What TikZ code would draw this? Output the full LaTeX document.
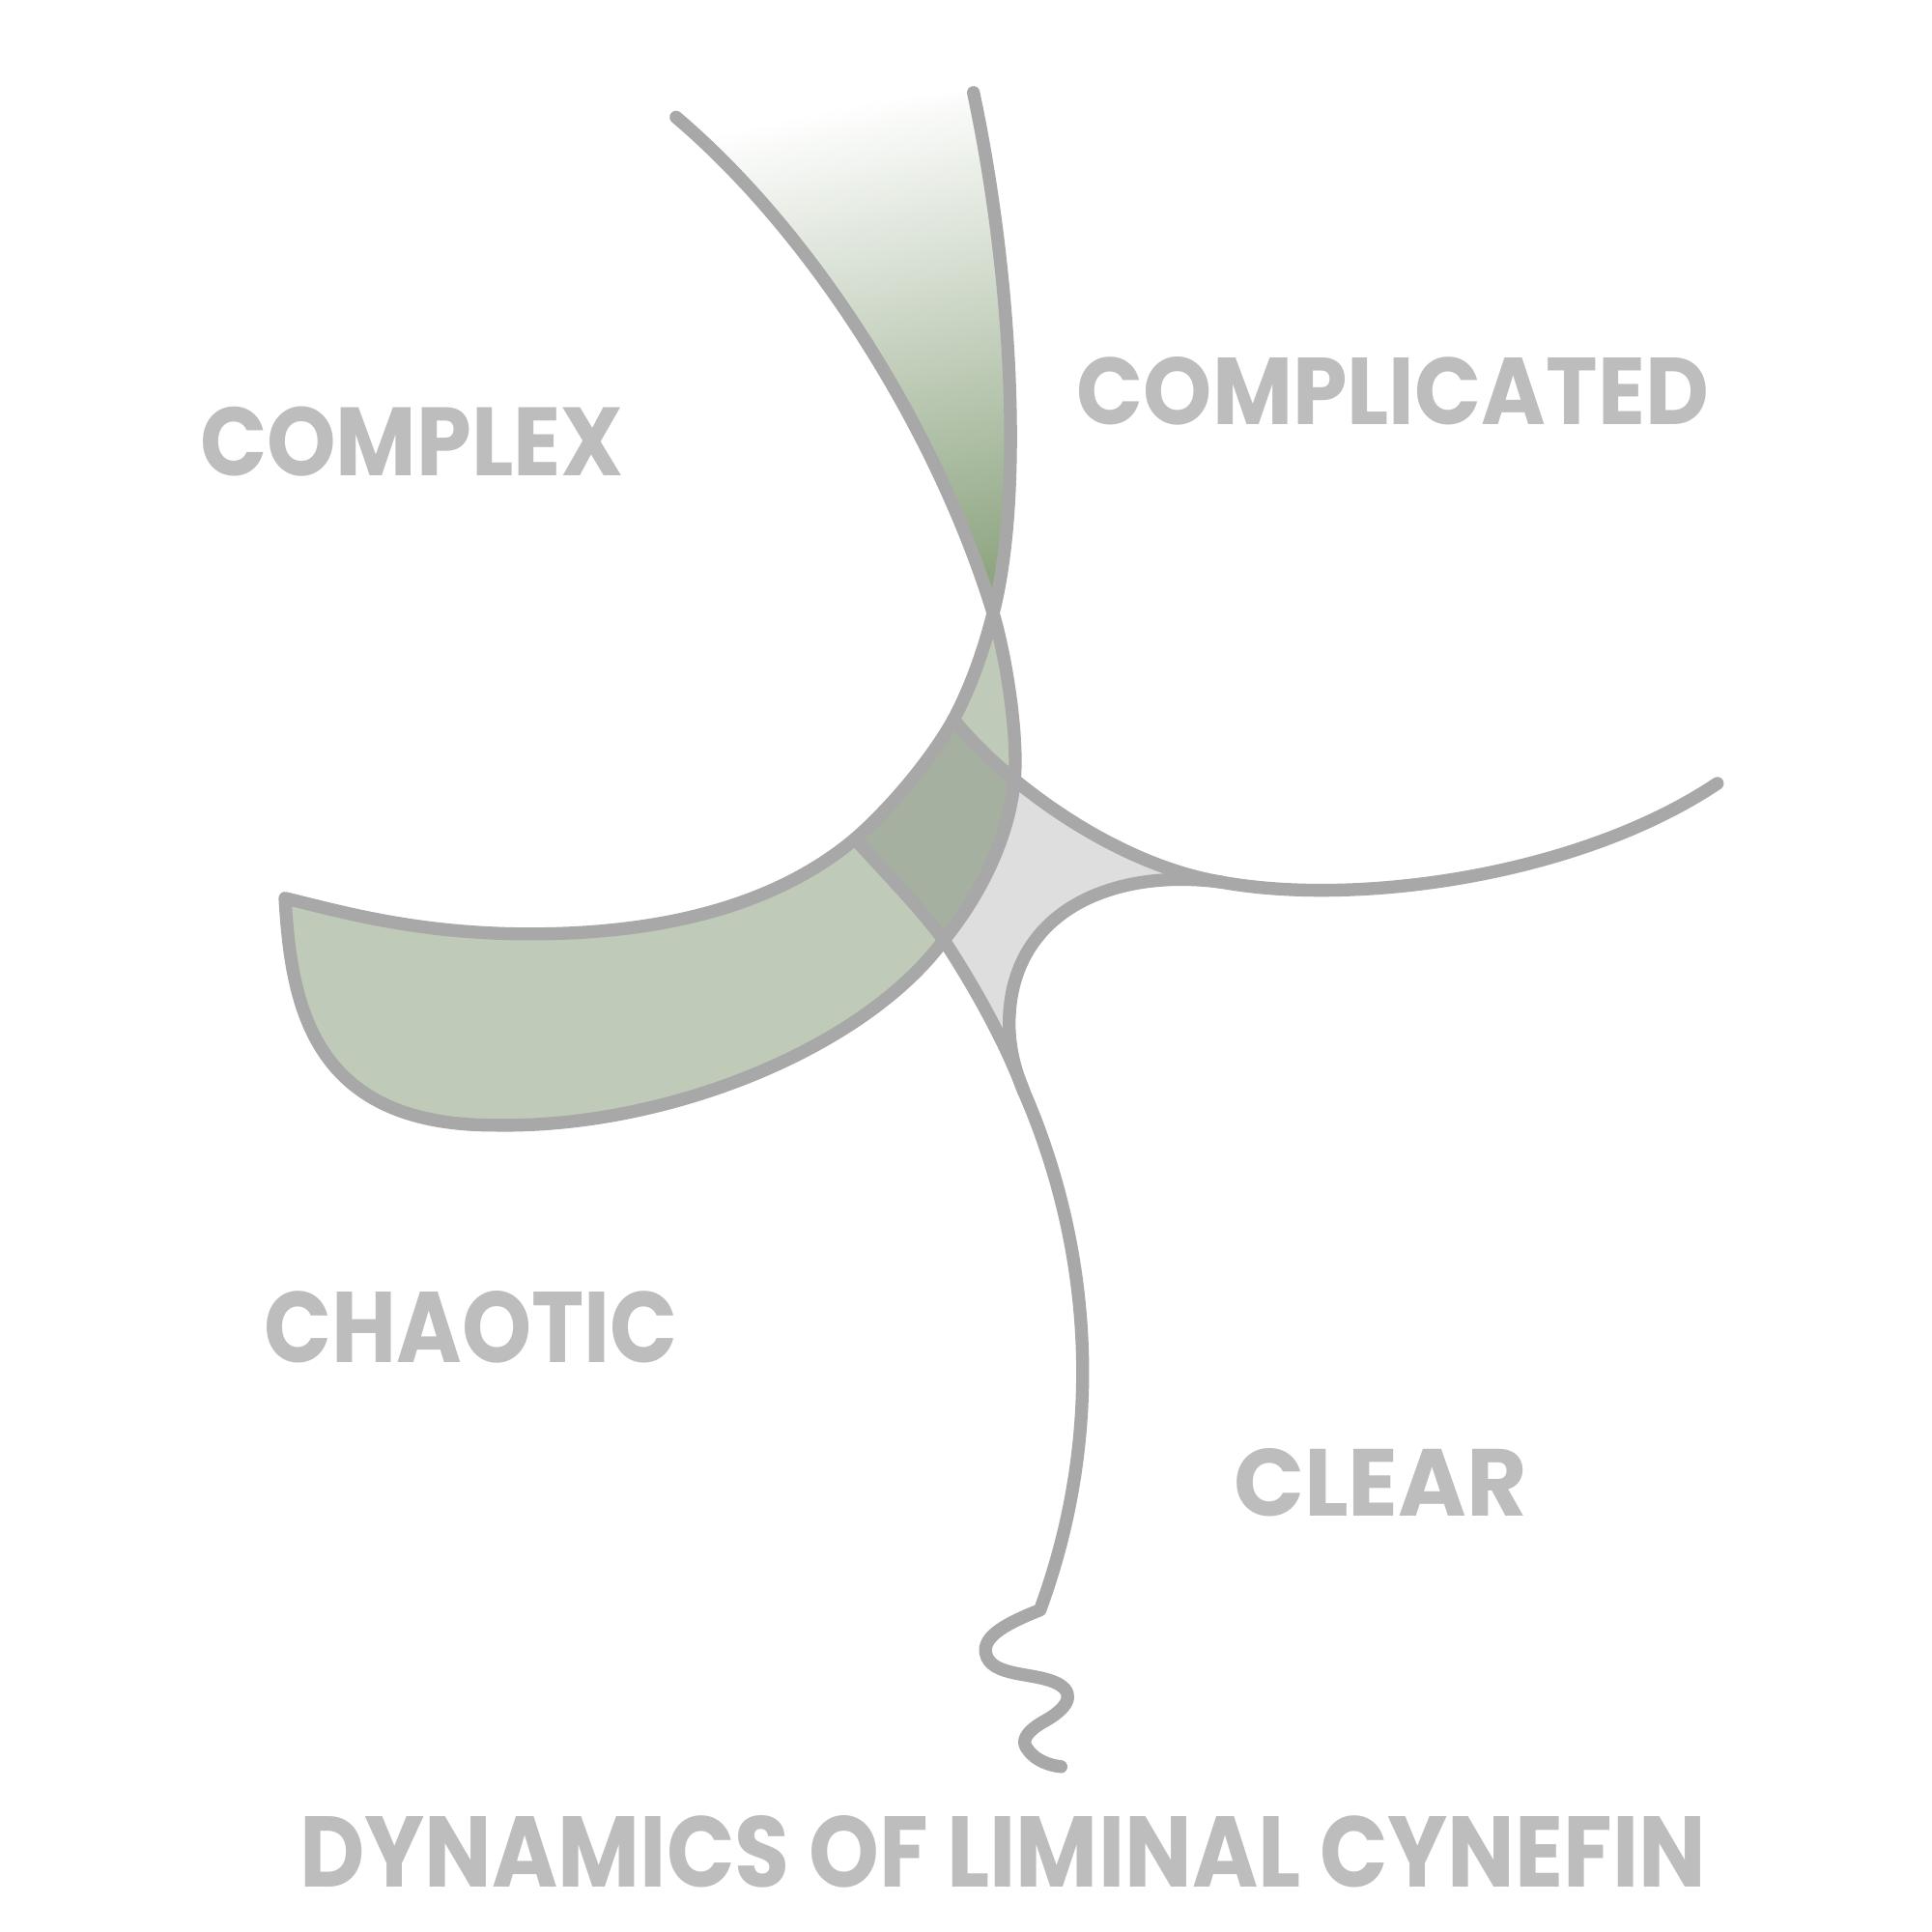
\documentclass[tikz,border=0pt]{standalone}
\usepackage{fontspec}
\usepackage{graphicx}
\setsansfont{Poppins}
\definecolor{lineGray}{HTML}{A8A8A8}
\definecolor{textGray}{HTML}{BDBDBD}
\definecolor{bandGreen}{HTML}{BFCBB8}
\definecolor{darkGreen}{HTML}{A5B0A0}
\definecolor{deepGreen}{HTML}{8FA682}
\definecolor{clearGray}{HTML}{DEDEDE}
\newcommand{\word}[3]{\resizebox{#1}{#2}{\sffamily\bfseries #3}}

\begin{document}
\begin{tikzpicture}
        [x=0.12771mm, y=-0.12771mm,
        line/.style={draw=lineGray, line width=3.8pt, line cap=round, line join=round},
        word/.style={inner sep=0pt, text=textGray}]
        \useasboundingbox (0,0) rectangle (1566,1566);

        \coordinate (T1) at (789,75);
        \coordinate (T2) at (548,95);
        \coordinate (X) at (805,497);
        \coordinate (J1) at (773,583);
        \coordinate (J2) at (822,635);
        \coordinate (J3) at (765,762);
        \coordinate (J4) at (830,885);
        \coordinate (J5) at (990,715);
        \coordinate (K) at (693,680);
        \coordinate (M) at (430,757);
        \coordinate (L) at (231,728);
        \coordinate (B) at (400,912);
        \coordinate (R) at (1392,635);
        \coordinate (W) at (818,830);
        \coordinate (S) at (843,1305);
        \coordinate (E) at (860,1432);

        % fills
        \shade[top color=white, middle color=deepGreen!30!white, bottom color=deepGreen, shading angle=12]
            (T2) .. controls (660,190) and (760,350) .. (X)
            .. controls (830,400) and (820,220) .. (T1) -- cycle;
        \fill[bandGreen] (X) .. controls (816,534) and (826,600) .. (J2)
            .. controls (817,680) and (795,725) .. (J3)
            .. controls (700,850) and (540,915) .. (B)
            .. controls (250,912) and (236,810) .. (L)
            .. controls (280,740) and (340,757) .. (M)
            .. controls (530,757) and (625,737) .. (K)
            .. controls (725,652) and (757,612) .. (J1)
            .. controls (787,557) and (798,525) .. (X) -- cycle;
        \fill[clearGray] (K) .. controls (720,710) and (745,735) .. (J3)
            .. controls (790,800) and (815,845) .. (J4)
            .. controls (823,868) and (818,850) .. (W)
            .. controls (818,740) and (900,703) .. (J5)
            .. controls (900,700) and (810,630) .. (J1)
            .. controls (757,612) and (725,652) .. (K) -- cycle;
        \begin{scope}
            \clip (K) .. controls (720,710) and (745,735) .. (J3)
                .. controls (790,800) and (815,845) .. (J4)
                .. controls (823,868) and (818,850) .. (W)
                .. controls (818,740) and (900,703) .. (J5)
                .. controls (900,700) and (810,630) .. (J1)
                .. controls (757,612) and (725,652) .. (K) -- cycle;
            \fill[darkGreen] (X) .. controls (816,534) and (826,600) .. (J2)
                .. controls (817,680) and (795,725) .. (J3)
                .. controls (700,850) and (540,915) .. (B)
                .. controls (250,912) and (236,810) .. (L)
                .. controls (280,740) and (340,757) .. (M)
                .. controls (530,757) and (625,737) .. (K)
                .. controls (725,652) and (757,612) .. (J1)
                .. controls (787,557) and (798,525) .. (X) -- cycle;
        \end{scope}

        % lines
        \draw[line] (T1) .. controls (820,220) and (830,400) .. (X)
            .. controls (798,525) and (787,557) .. (J1)
            .. controls (757,612) and (725,652) .. (K)
            .. controls (625,737) and (530,757) .. (M)
            .. controls (340,757) and (280,740) .. (L)
            .. controls (236,810) and (250,912) .. (B)
            .. controls (540,915) and (700,850) .. (J3)
            .. controls (795,725) and (817,680) .. (J2)
            .. controls (826,600) and (816,534) .. (X)
            .. controls (760,350) and (660,190) .. (T2);
        \draw[line] (R) .. controls (1280,710) and (1100,735) .. (J5)
            .. controls (900,700) and (810,630) .. (J1);
        \draw[line] (K) .. controls (720,710) and (745,735) .. (J3)
            .. controls (790,800) and (815,845) .. (J4);
        \draw[line] (J5) .. controls (900,703) and (818,740) .. (W)
            .. controls (818,850) and (823,868) .. (J4)
            .. controls (880,1000) and (900,1150) .. (S)
            .. controls (810,1318) and (797,1328) .. (799,1340)
            .. controls (803,1360) and (840,1355) .. (858,1365)
            .. controls (875,1375) and (860,1388) .. (845,1396)
            .. controls (830,1405) and (828,1412) .. (833,1418)
            .. controls (840,1428) and (852,1431) .. (E);

        % labels
        \node[word] (complex) at (334,358) {\word{43.9mm}{7.15mm}{COMPLEX}};
        \node[word] (complicated) at (1129,317) {\word{65.4mm}{7.0mm}{COMPLICATED}};
        \node[word] (chaotic) at (382,1076) {\word{42.8mm}{7.4mm}{CHAOTIC}};
        \node[word] (clear) at (1119,1202) {\word{30.4mm}{7.0mm}{CLEAR}};
        \node[word] (title) at (813,1501) {\word{145.6mm}{7.4mm}{DYNAMICS OF LIMINAL CYNEFIN}};
\end{tikzpicture}
\end{document}
